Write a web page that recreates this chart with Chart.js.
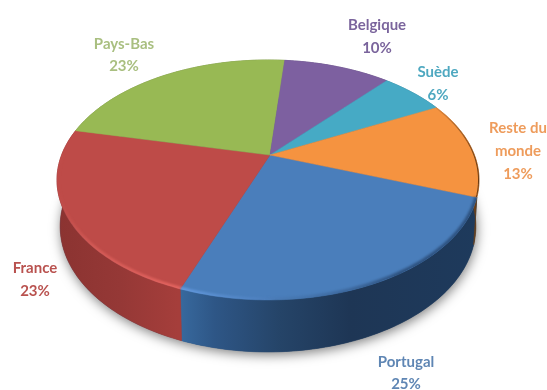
<!DOCTYPE html>
<html><head><meta charset="utf-8">
<style>html,body{margin:0;padding:0;background:#fff}canvas{display:block;filter:blur(0.4px)}</style>
<script src="https://cdn.jsdelivr.net/npm/chart.js@4"></script>
</head><body>
<canvas id="c" width="547" height="390"></canvas>
<script>
const categories = ["Portugal","France","Pays-Bas","Belgique","Suède","Reste du monde"];
const shares = [25,23,23,10,6,13];
const colors = ["#4a7ebb","#be4b48","#98b954","#7d60a0","#46aac5","#f59340"];
const labelColors = ["#5f86b4","#b9524f","#a9bf80","#7a649c","#4ea8c0","#ee9c5c"];

// perspective view of the pie disc
const CX=268, CY=155, A=206.4, B=114.8, K=0.208;
const project=(a)=>{const u=Math.cos(a),v=Math.sin(a),w=1-K*v;return [CX+A*u/w,CY+B*v/w,v];};
const lower=(a)=>{const p=project(a);return [CX+(p[0]-CX)*0.985,p[1]+45+7*p[2]];};
const arcPts=(s,e,fn)=>{const n=Math.max(2,Math.ceil((e-s)/0.02)),r=[];for(let i=0;i<=n;i++)r.push(fn(s+(e-s)*i/n));return r;};
const trace=(ctx,pts,first)=>{pts.forEach((p,i)=>{(i===0&&first)?ctx.moveTo(p[0],p[1]):ctx.lineTo(p[0],p[1]);});};

const sideStops=[
 [[178,"#386a9f"],[215,"#2e5686"],[280,"#254468"],[350,"#1e3655"],[478,"#1e3a5c"]],
 [[57,"#8b3331"],[120,"#953836"],[178,"#a53e3b"]],
 [[57,"#6f8a3e"],[478,"#6f8a3e"]],
 [[57,"#5c4578"],[478,"#5c4578"]],
 [[57,"#327f94"],[478,"#327f94"]],
 [[440,"#c07030"],[478,"#5f3a18"]]
];
const labelLines=[
 [["Portugal",406,362],["25%",406,384]],
 [["France",35,268],["23%",35,291]],
 [["Pays-Bas",124,44],["23%",124,66]],
 [["Belgique",377,25],["10%",377,48]],
 [["Suède",438,72],["6%",438,95]],
 [["Reste du",518,128],["monde",518,151],["13%",518,174]]
];

const pie3d={
 id:"pie3d",
 beforeDatasetsDraw(chart){
  const ctx=chart.ctx, arcs=chart.getDatasetMeta(0).data;
  ctx.save();
  // soft ground shadow
  ctx.save();
  ctx.shadowColor="rgba(0,0,0,0.5)";ctx.shadowBlur=12;ctx.shadowOffsetY=3;ctx.shadowOffsetX=1;
  ctx.fillStyle="#2a4a70";
  ctx.beginPath();trace(ctx,arcPts(0,Math.PI*2,lower),true);ctx.closePath();ctx.fill();
  ctx.restore();
  // side walls
  arcs.forEach((el,i)=>{
   const g=ctx.createLinearGradient(57,0,478,0);
   sideStops[i].forEach(([x,c])=>g.addColorStop((x-57)/421,c));
   ctx.fillStyle=g;ctx.strokeStyle=g;ctx.lineWidth=0.6;
   ctx.beginPath();
   trace(ctx,arcPts(el.startAngle,el.endAngle,project),true);
   trace(ctx,arcPts(el.startAngle,el.endAngle,lower).reverse(),false);
   ctx.closePath();ctx.fill();ctx.stroke();
  });
  // top surface
  arcs.forEach((el,i)=>{
   ctx.fillStyle=colors[i];ctx.strokeStyle=colors[i];ctx.lineWidth=0.5;
   ctx.beginPath();ctx.moveTo(CX+2,CY);
   trace(ctx,arcPts(el.startAngle,el.endAngle,project),false);
   ctx.closePath();ctx.fill();ctx.stroke();
  });
  // bevelled rim, kept inside the top disc
  const rim=(el,from,to,style,w,blur)=>{
   const s=el.startAngle+(el.endAngle-el.startAngle)*from,e=el.startAngle+(el.endAngle-el.startAngle)*to;
   ctx.save();
   ctx.beginPath();trace(ctx,arcPts(0,Math.PI*2,project),true);ctx.closePath();ctx.clip();
   ctx.filter="blur("+blur+"px)";ctx.strokeStyle=style;ctx.lineWidth=w;ctx.lineCap="butt";
   ctx.beginPath();trace(ctx,arcPts(s,e,project),true);ctx.stroke();ctx.restore();
  };
  const blue=ctx.createLinearGradient(178,0,400,0);
  blue.addColorStop(0,"rgba(105,160,230,0.85)");blue.addColorStop(0.35,"rgba(85,135,200,0.5)");blue.addColorStop(0.55,"rgba(60,100,150,0.35)");blue.addColorStop(1,"rgba(35,65,105,0.7)");
  rim(arcs[0],0,1,blue,5,1.2);
  const red=ctx.createLinearGradient(57,0,178,0);
  red.addColorStop(0,"rgba(225,100,95,0)");red.addColorStop(0.3,"rgba(225,100,95,0.6)");red.addColorStop(1,"rgba(235,105,100,0.85)");
  rim(arcs[1],0,0.85,red,5,1.2);
  const or=ctx.createLinearGradient(436,0,478,0);
  or.addColorStop(0,"rgba(120,70,25,0.15)");or.addColorStop(1,"rgba(90,50,15,0.9)");
  rim(arcs[5],0,1,or,2,0.5);
  // labels
  ctx.textAlign="center";ctx.textBaseline="middle";
  ctx.font="bold 15px Lato,'Liberation Sans',sans-serif";
  labelLines.forEach((lines,i)=>{
   ctx.fillStyle=labelColors[i];
   lines.forEach(([t,x,y])=>ctx.fillText(t,x,y));
  });
  ctx.restore();
  return false;
 }
};

new Chart(document.getElementById("c"),{
 type:"pie",
 data:{labels:categories,datasets:[{data:shares,backgroundColor:colors,borderWidth:0}]},
 options:{responsive:false,animation:false,rotation:110,
  plugins:{legend:{display:false},tooltip:{enabled:false}}},
 plugins:[pie3d]
});
</script>
</body></html>
